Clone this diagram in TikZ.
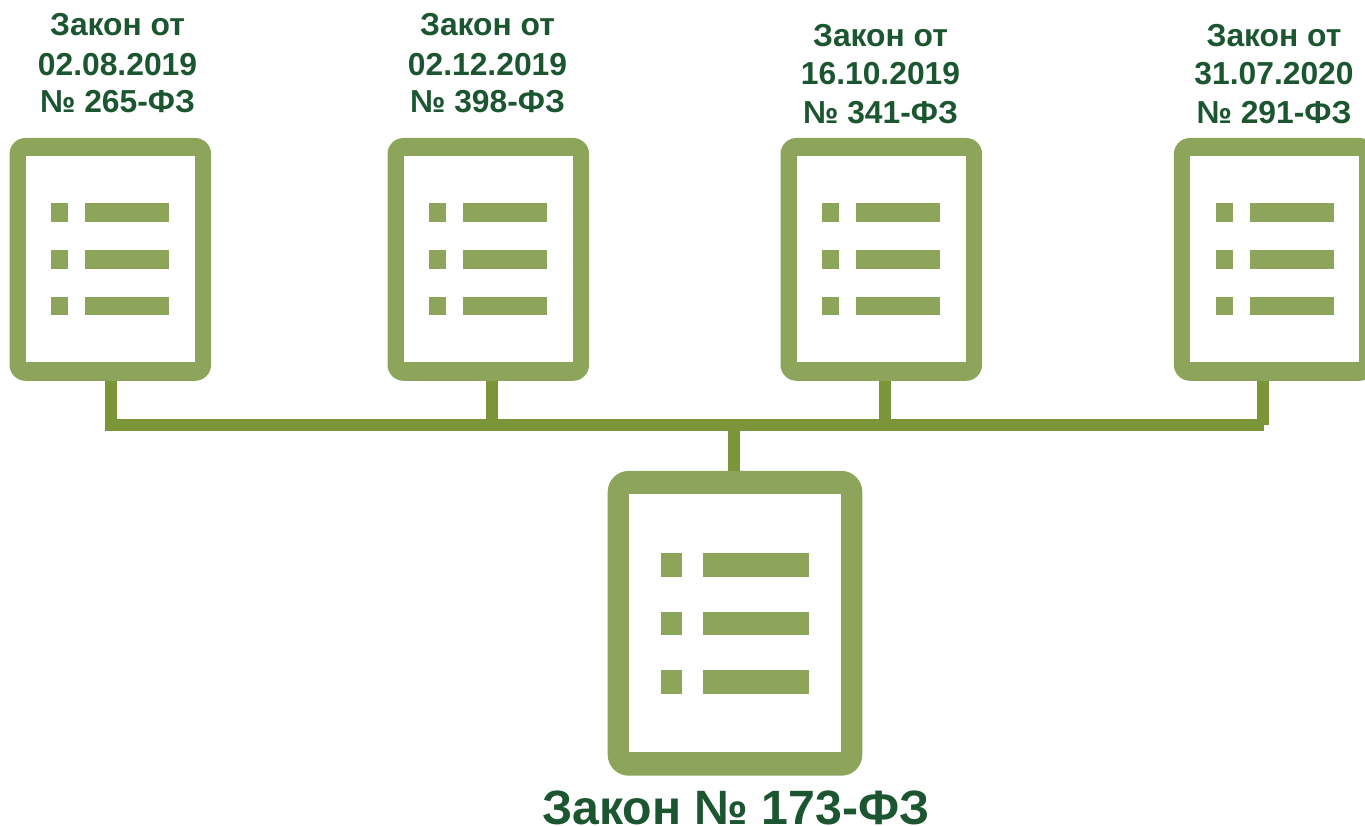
\documentclass[tikz,border=0pt]{standalone}
\usepackage{fontspec}
\setmainfont{Liberation Sans}
\usetikzlibrary{calc}
\definecolor{docgreen}{HTML}{8CA55A}
\definecolor{linkgreen}{HTML}{7A9639}
\definecolor{textgreen}{HTML}{1B5631}
\tikzset{
  docbody/.style={fill=docgreen,draw=none,rounded corners=#1,inner sep=0pt,outer sep=0pt},
  docpage/.style={fill=white,draw=none,inner sep=0pt,outer sep=0pt},
  docmark/.style={fill=docgreen,draw=none,inner sep=0pt,outer sep=0pt},
  linkline/.style={draw=linkgreen,line width=11.8pt},
  smalllabel/.style={text=textgreen,font=\fontsize{31.8}{38.6}\selectfont\bfseries,align=center,inner sep=0pt},
  biglabel/.style={text=textgreen,font=\fontsize{48.2}{52}\selectfont\bfseries,inner sep=0pt,anchor=base}
}
% #1 name, #2 centre x: small document icon
\newcommand{\smalldoc}[2]{%
  \node[docbody=16pt,minimum width=201.6pt,minimum height=242.8pt] (#1) at (#2,259.4) {};
  \node[docpage,minimum width=168.6pt,minimum height=206.4pt] (#1p) at (#2,259.2) {};
  \foreach \r/\y in {a/212.6,b/259.4,c/306} {
    \node[docmark,minimum width=17pt,minimum height=18.7pt] (#1s\r) at ($(#2,\y)+(-50.4,0)$) {};
    \node[docmark,minimum width=84pt,minimum height=18.7pt] (#1l\r) at ($(#2,\y)+(17,0)$) {};
  }
}
\begin{document}
\begin{tikzpicture}[x=1pt,y=-1pt]
\useasboundingbox (0,0) rectangle (1365,826);
% hub points
\coordinate (hl) at (105,425.3);
\coordinate (hr) at (1263.5,425.3);
\coordinate (h1) at (110.8,425.3);
\coordinate (h2) at (492,425.3);
\coordinate (h3) at (885,425.3);
\coordinate (h4) at (1263,425.3);
\coordinate (hc) at (733.7,425.3);
% icons
\smalldoc{d1}{110.3}
\smalldoc{d2}{488.3}
\smalldoc{d3}{881.3}
\smalldoc{d4}{1274.7}
\node[docbody=21pt,minimum width=254.6pt,minimum height=304.8pt] (big) at (735,623.3) {};
\node[docpage,minimum width=212.4pt,minimum height=258.4pt] (bigp) at (734.9,623.2) {};
\foreach \r/\y in {a/564.9,b/623.5,c/682} {
  \node[docmark,minimum width=21.4pt,minimum height=23.4pt] (bigs\r) at (671.3,\y) {};
  \node[docmark,minimum width=106pt,minimum height=23.4pt] (bigl\r) at (756.3,\y) {};
}
% connectors
\draw[linkline] (hl) -- (hr);
\draw[linkline] (h1 |- d1.south) -- (h1);
\draw[linkline] (h2 |- d2.south) -- (h2);
\draw[linkline] (h3 |- d3.south) -- (h3);
\draw[linkline] (h4 |- d4.south) -- (h4);
\draw[linkline] (hc) -- (hc |- big.north);
% labels
\node[smalllabel] (t1) at (117.5,63.3) {Закон от\\[1.4pt]02.08.2019\\[-1.6pt]№ 265-ФЗ};
\node[smalllabel] (t2) at (487.5,63.3) {Закон от\\[1.4pt]02.12.2019\\[-1.6pt]№ 398-ФЗ};
\node[smalllabel] (t3) at (880.5,73.8) {Закон от\\16.10.2019\\№ 341-ФЗ};
\node[smalllabel] (t4) at (1274,73.8) {Закон от\\31.07.2020\\№ 291-ФЗ};
\node[biglabel] (t5) at (736,824) {Закон № 173-ФЗ};
\end{tikzpicture}
\end{document}
